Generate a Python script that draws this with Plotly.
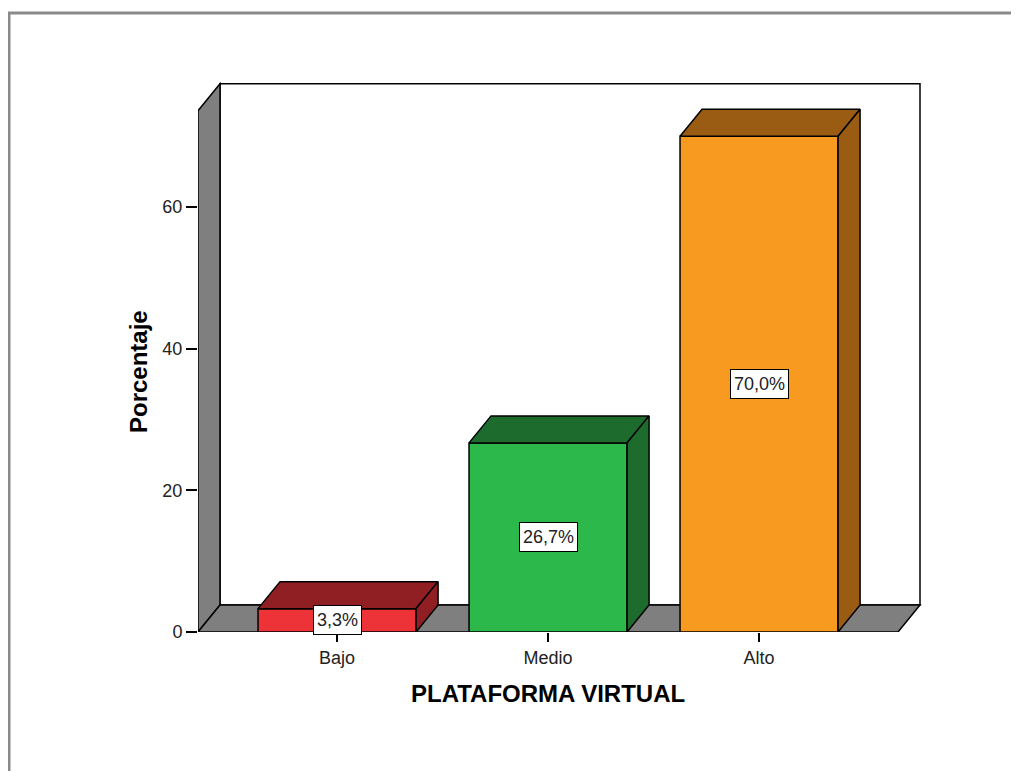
import plotly.graph_objects as go

# ---- data ----
categories = ["Bajo", "Medio", "Alto"]
percentages = [3.3, 26.7, 70.0]
label_texts = ["3,3%", "26,7%", "70,0%"]
tick_vals = [0, 20, 40, 60]
front_colors = ["#EE3338", "#2DB84B", "#F89A20"]
dark_colors = ["#8F1F22", "#1E6B2E", "#9A5C13"]

# ---- geometry (data units) ----
X0, XR = -0.659, 2.6585      # front floor left / right
TOP = 73.6                    # front top of walls
DX, DY = 0.1043, 3.81          # depth offset
BW = 0.749                    # bar width

OFF = 8                        # page body margin
W, H = 1019 - OFF, 771 - OFF
L, T = 198 - OFF, 82 - OFF
R = W - (924 - OFF)
B = H - (632 - OFF)
xrange_ = [X0, X0 + (W - L - R) / 211.0]
yrange_ = [0, (H - T - B) / 7.083]

edge = dict(color="black", width=1.5)
FONT = "Liberation Sans, Arial"

# page-pixel -> paper coordinates
def px(p):
    return (p - OFF - L) / (W - L - R)

def py(p):
    return (H - B - (p - OFF)) / (H - T - B)

fig = go.Figure()

shapes = []
shapes.append(dict(type="rect", xref="x", yref="y", x0=X0 + DX, x1=XR + DX, y0=DY, y1=TOP + DY,
                   fillcolor="white", line=edge, layer="below"))
shapes.append(dict(type="path", xref="x", yref="y",
                   path=f"M {X0},0 L {X0},{TOP} L {X0+DX},{TOP+DY} L {X0+DX},{DY} Z",
                   fillcolor="#7F7F7F", line=edge, layer="below"))
shapes.append(dict(type="path", xref="x", yref="y",
                   path=f"M {X0},0 L {X0+DX},{DY} L {XR+DX},{DY} L {XR},0 Z",
                   fillcolor="#7F7F7F", line=edge, layer="below"))
# outer frame
shapes.append(dict(type="line", xref="paper", yref="paper", x0=px(8), x1=px(1040), y0=py(13), y1=py(13),
                   line=dict(color="#8A8A8A", width=3)))
shapes.append(dict(type="line", xref="paper", yref="paper", x0=px(9), x1=px(9), y0=py(13), y1=py(800),
                   line=dict(color="#8A8A8A", width=3)))

xs = list(range(len(categories)))

# front faces
fig.add_trace(go.Bar(x=xs, y=percentages, width=BW, marker=dict(color=front_colors, line=edge),
                     hoverinfo="skip", showlegend=False))

# top and side faces
for i, v in enumerate(percentages):
    xl, xr = xs[i] - BW / 2, xs[i] + BW / 2
    fig.add_trace(go.Scatter(x=[xl, xl + DX, xr + DX, xr, xl], y=[v, v + DY, v + DY, v, v],
                             mode="lines", fill="toself", fillcolor=dark_colors[i], line=edge,
                             hoverinfo="skip", showlegend=False))
    fig.add_trace(go.Scatter(x=[xr, xr, xr + DX, xr + DX, xr], y=[0, v, v + DY, DY, 0],
                             mode="lines", fill="toself", fillcolor=dark_colors[i], line=edge,
                             hoverinfo="skip", showlegend=False))

annotations = []
for i, v in enumerate(percentages):
    annotations.append(dict(x=xs[i], y=v / 2, xref="x", yref="y", text=label_texts[i], showarrow=False,
                            bgcolor="white", bordercolor="black", borderwidth=1, borderpad=3, height=22,
                            font=dict(size=18, color="#222222", family=FONT)))
annotations.append(dict(x=px(548), y=py(693), xref="paper", yref="paper", text="<b>PLATAFORMA VIRTUAL</b>",
                        xanchor="center", yanchor="middle", showarrow=False,
                        font=dict(size=24, color="black", family=FONT)))
annotations.append(dict(x=px(138), y=py(372), xref="paper", yref="paper", text="<b>Porcentaje</b>",
                        xanchor="center", yanchor="middle", textangle=-90, showarrow=False,
                        font=dict(size=24, color="black", family=FONT)))

fig.update_layout(
    width=W, height=H,
    margin=dict(l=L, r=R, t=T, b=B, pad=0),
    paper_bgcolor="white", plot_bgcolor="rgba(0,0,0,0)",
    shapes=shapes, annotations=annotations,
    font=dict(family=FONT, size=18, color="#222222"),
    xaxis=dict(range=xrange_, tickmode="array", tickvals=xs, ticktext=categories,
               showgrid=False, zeroline=False, showline=False,
               ticks="outside", ticklen=9, tickwidth=1.5, tickcolor="black"),
    yaxis=dict(range=yrange_, tickmode="array", tickvals=tick_vals, ticktext=[str(t) for t in tick_vals],
               showgrid=False, zeroline=False, showline=False,
               ticks="outside", ticklen=11, tickwidth=1.5, tickcolor="black"),
)

fig.write_html("out.html")
